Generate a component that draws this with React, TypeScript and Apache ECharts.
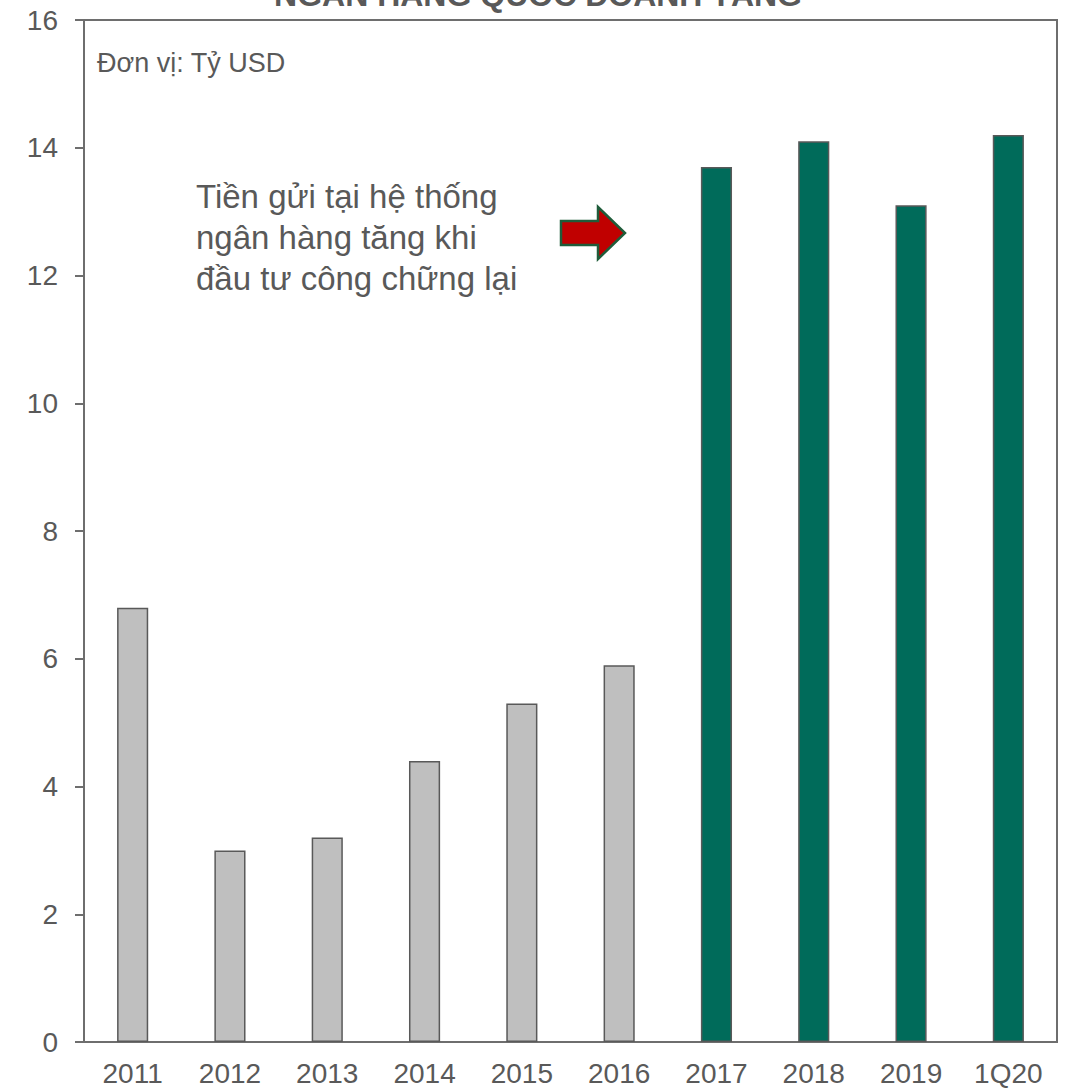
import React, { useEffect, useRef } from "react";
import * as echarts from "echarts";

const periods = ["2011", "2012", "2013", "2014", "2015", "2016", "2017", "2018", "2019", "1Q20"];
const deposits = [6.8, 3.0, 3.2, 4.4, 5.3, 5.9, 13.7, 14.1, 13.1, 14.2];
const phases = ["before", "before", "before", "before", "before", "before", "after", "after", "after", "after"];
const yTicks = { min: 0, max: 16, interval: 2 };

const titleText = "NGÂN HÀNG QUỐC DOANH TĂNG";
const unitText = "Đơn vị: Tỷ USD";
const noteLines = ["Tiền gửi tại hệ thống", "ngân hàng tăng khi", "đầu tư công chững lại"];

const GRAY = "#BFBFBF";
const GREEN = "#006B5A";
const TEXT = "#595959";
const LINE = "#6E6E6E";
const FONT = "'Liberation Sans', Arial, sans-serif";

export default function App() {
  const ref = useRef<HTMLDivElement>(null);
  useEffect(() => {
    if (!ref.current) return;
    const chart = echarts.init(ref.current, undefined, { renderer: "svg" });
    chart.setOption({
      animation: false,
      textStyle: { fontFamily: FONT },
      grid: {
        left: 84,
        right: 19,
        top: 20,
        bottom: 47,
        show: true,
        borderColor: LINE,
        borderWidth: 2,
        containLabel: false,
      },
      xAxis: {
        type: "category",
        data: periods,
        axisLine: { show: true, lineStyle: { color: LINE, width: 2 } },
        axisTick: { show: false },
        axisLabel: { color: TEXT, fontSize: 28, margin: 17, fontFamily: FONT },
      },
      yAxis: {
        type: "value",
        min: yTicks.min,
        max: yTicks.max,
        interval: yTicks.interval,
        splitLine: { show: false },
        axisLine: { show: true, lineStyle: { color: LINE, width: 2 } },
        axisTick: { show: true, inside: false, length: 9, lineStyle: { color: LINE, width: 2 } },
        axisLabel: { color: TEXT, fontSize: 28, margin: 26, fontFamily: FONT },
      },
      series: [
        {
          type: "bar",
          barWidth: "32%",
          data: deposits.map((v, i) => ({
            value: v,
            itemStyle: {
              color: phases[i] === "after" ? GREEN : GRAY,
              borderColor: "#595959",
              borderWidth: 1.5,
            },
          })),
        },
      ],
      graphic: [
        {
          type: "text",
          x: 538,
          y: -5,
          style: {
            text: titleText,
            fill: TEXT,
            font: `bold 32px ${FONT}`,
            textAlign: "center",
            textVerticalAlign: "middle",
          },
        },
        {
          type: "text",
          x: 97,
          y: 63,
          style: {
            text: unitText,
            fill: TEXT,
            font: `27px ${FONT}`,
            textAlign: "left",
            textVerticalAlign: "middle",
          },
        },
        ...noteLines.map((t, i) => ({
          type: "text",
          x: 196,
          y: 196 + i * 41,
          style: {
            text: t,
            fill: TEXT,
            font: `33px ${FONT}`,
            textAlign: "left",
            textVerticalAlign: "middle",
          },
        })),
        {
          type: "polygon",
          shape: {
            points: [
              [561, 221],
              [598, 221],
              [598, 207],
              [625, 233],
              [598, 259],
              [598, 245],
              [561, 245],
            ],
          },
          style: { fill: "#C00000", stroke: "#1F5C3A", lineWidth: 2.5 },
        },
      ],
    });
    return () => chart.dispose();
  }, []);
  return (
    <div
      ref={ref}
      style={{ position: "fixed", left: 0, top: 0, width: 1076, height: 1089, background: "#fff" }}
    />
  );
}
